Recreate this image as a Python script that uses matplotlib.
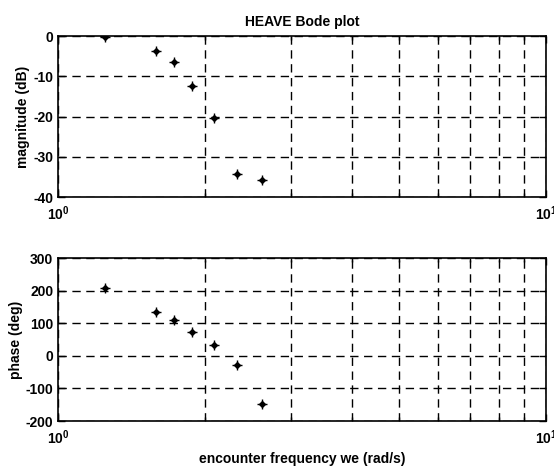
import matplotlib
matplotlib.use("Agg")
import matplotlib.pyplot as plt
from matplotlib.ticker import LogLocator, FixedLocator, NullFormatter

plt.rcParams['font.family'] = ['Liberation Sans', 'DejaVu Sans']
plt.rcParams['axes.unicode_minus'] = False

# encounter frequencies (rad/s)
freq = [1.25, 1.59, 1.73, 1.88, 2.09, 2.33, 2.62]
magnitude_db = [-0.2, -3.7, -6.5, -12.4, -20.3, -34.3, -35.7]
phase_deg = [208, 135, 110, 72, 33, -27, -149]

mag_ticks = [0, -10, -20, -30, -40]
phase_ticks = [300, 200, 100, 0, -100, -200]

fig = plt.figure(figsize=(5.54, 4.68), dpi=100)
ax1 = fig.add_axes([0.1047, 0.579, 0.881, 0.344])
ax2 = fig.add_axes([0.1047, 0.1004, 0.881, 0.348])


def style(ax, ticks, ylabel):
    ax.set_xscale('log')
    ax.set_xlim(1, 10)
    ax.set_ylim(min(ticks), max(ticks))
    ax.yaxis.set_major_locator(FixedLocator(ticks))
    ax.xaxis.set_major_locator(LogLocator(base=10, numticks=5))
    ax.xaxis.set_minor_locator(LogLocator(base=10, subs=range(2, 10), numticks=10))
    ax.xaxis.set_minor_formatter(NullFormatter())
    ax.grid(True, which='both', axis='x', color='black', linestyle=(0, (6, 4)), linewidth=1.0)
    ax.grid(True, which='major', axis='y', color='black', linestyle=(0, (6, 4)), linewidth=1.0)
    ax.tick_params(which='both', direction='in', top=True, right=True,
                   labelsize=10, width=1.0, colors='black')
    ax.tick_params(which='major', length=5)
    ax.tick_params(which='minor', length=3)
    ax.tick_params(axis='x', pad=5)
    for s in ax.spines.values():
        s.set_linewidth(1.2)
    for lab in ax.get_yticklabels() + ax.get_xticklabels():
        lab.set_fontweight('bold')
    ax.set_ylabel(ylabel, fontsize=10, fontweight='bold', labelpad=2)


def points(ax, y):
    ax.plot(freq, y, linestyle='none', marker='D', markersize=3,
            color='black', zorder=3)
    ax.plot(freq, y, linestyle='none', marker='+', markersize=7,
            markeredgewidth=1.0, color='black', zorder=3)


points(ax1, magnitude_db)
points(ax2, phase_deg)
style(ax1, mag_ticks, 'magnitude (dB)')
style(ax2, phase_ticks, 'phase (deg)')

ax1.set_title('HEAVE Bode plot', fontsize=10, fontweight='bold', pad=7)
ax2.set_xlabel('encounter frequency we (rad/s)', fontsize=10,
               fontweight='bold', labelpad=4)

fig.savefig('out.png', dpi=100, facecolor='white')
